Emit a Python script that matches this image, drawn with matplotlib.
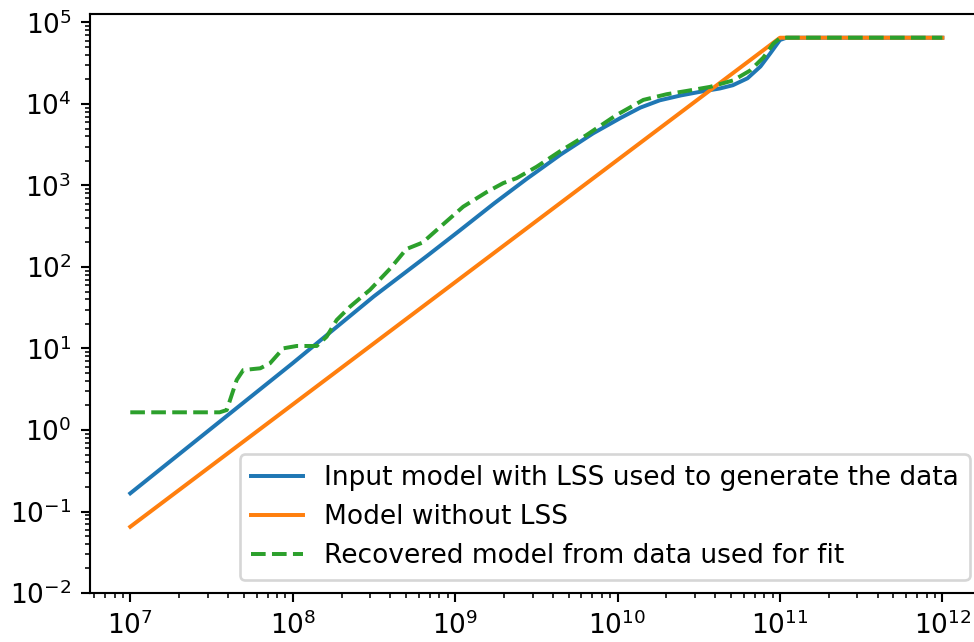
import matplotlib
matplotlib.use("Agg")
import matplotlib.pyplot as plt
import numpy as np

# exponents (log10)
orange_lx = [7.0, 11.0, 12.0]
orange_ly = [-1.187, 4.813, 4.813]

blue_lx = [7.0, 8.0, 8.5, 8.83, 9.03, 9.24, 9.44, 9.65, 9.85, 10.02, 10.14,
           10.26, 10.39, 10.51, 10.63, 10.71, 10.80, 10.88, 10.94, 11.0, 11.04,
           12.0]
blue_ly = [-0.777, 0.82, 1.64, 2.14, 2.45, 2.78, 3.08, 3.38, 3.64, 3.83, 3.955,
           4.045, 4.105, 4.15, 4.19, 4.23, 4.315, 4.46, 4.62, 4.785, 4.813,
           4.813]

green_lx = [7.0, 7.55, 7.594, 7.655, 7.696, 7.80, 7.86, 7.942, 8.025, 8.148,
            8.209, 8.271, 8.353, 8.476, 8.60, 8.70, 8.80, 8.93, 9.05, 9.195,
            9.297, 9.379, 9.502, 9.646, 9.81, 9.99, 10.159, 10.303, 10.426,
            10.57, 10.713, 10.816, 10.898, 10.959, 11.0, 11.04, 12.0]
green_ly = [0.217, 0.217, 0.245, 0.613, 0.736, 0.757, 0.818, 1.002, 1.031, 1.031,
            1.145, 1.350, 1.513, 1.72, 1.98, 2.22, 2.30, 2.53, 2.74, 2.92,
            3.03, 3.09, 3.23, 3.42, 3.62, 3.86, 4.05, 4.12, 4.16,
            4.21, 4.29, 4.41, 4.57, 4.74, 4.806, 4.813, 4.813]

labels = ["Input model with LSS used to generate the data",
          "Model without LSS",
          "Recovered model from data used for fit"]

dpi = 190
fig = plt.figure(figsize=(974 / dpi, 642 / dpi), dpi=dpi)
# axes runs a little past the right edge, like the cropped original
ax = fig.add_axes([0.0924, 0.0763, 0.9168, 0.9019])

ax.plot(10 ** np.array(blue_lx), 10 ** np.array(blue_ly), label=labels[0])
ax.plot(10 ** np.array(orange_lx), 10 ** np.array(orange_ly), label=labels[1])
ax.plot(10 ** np.array(green_lx), 10 ** np.array(green_ly), '--', label=labels[2])

ax.set_xscale('log')
ax.set_yscale('log')
ax.set_xlim(10 ** 6.752, 10 ** 12.25)
ax.set_ylim(1e-2, 10 ** 5.104)
ax.legend(loc='lower right')

fig.savefig("out.png", dpi=dpi)
